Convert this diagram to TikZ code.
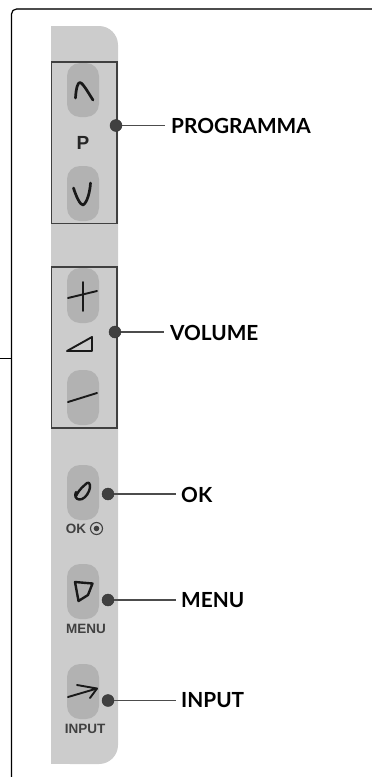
\documentclass[tikz,border=0pt]{standalone}
\usepackage{fontspec}
\setmainfont{Lato}
\newfontfamily\arialb[]{Liberation Sans}
\tikzset{
  callout/.style={font=\fontsize{20.8}{22}\selectfont\bfseries, text=black, anchor=west, inner sep=0pt},
  panelbox/.style={draw=black!75, line width=1.2pt},
  keybtn/.style={fill=black!30, rounded corners=13pt, draw=none},
  dot/.style={circle, fill=black!75, draw=black!80, line width=.4pt, minimum size=12pt, inner sep=0pt},
  leader/.style={draw=black!70, line width=1.1pt},
  glyph/.style={draw=black!90, line width=1.9pt, line cap=round, line join=round},
  keylabel/.style={font=\arialb\bfseries\fontsize{13.5}{14}\selectfont, text=black!75, inner sep=0pt}
}
\begin{document}
\begin{tikzpicture}[x=1pt,y=-1pt]
\useasboundingbox (0,0) rectangle (372,777);
% frame
\draw[black,line width=1.2pt,rounded corners=5pt] (11.5,777) -- (11.5,9) -- (18,9);
\draw[black!70,line width=1.8pt] (17,9) -- (372,9);
\draw[black,line width=.9pt] (0,358.5) -- (11.5,358.5);
% panel
\fill[black!20,rounded corners=19pt] (51,26) -- (118,26) -- (118,764) -- (51,764) [sharp corners] -- cycle;
\fill[black!20] (51,26) rectangle (80,764);
% buttons
\fill[keybtn] (67,63) rectangle (99,117);
\fill[keybtn] (67,166) rectangle (99,221);
\fill[keybtn] (67,268) rectangle (99,323);
\fill[keybtn] (67,370) rectangle (99,425);
\fill[keybtn] (67,465) rectangle (99,520);
\fill[keybtn] (67,564) rectangle (99,619);
\fill[keybtn] (67,664) rectangle (99,719);
% group boxes
\draw[panelbox] (51.5,62) rectangle (117,223.5);
\draw[panelbox] (51.5,267) rectangle (117,428);
% glyphs
\draw[glyph,line width=2.7pt] (75.5,98) .. controls (76,88) and (78,82) .. (80,82.5) .. controls (83,83) and (89,94) .. (93,100);
\draw[glyph,line width=2.7pt] (73.5,188) .. controls (76,196) and (80,205) .. (83,205) .. controls (87,203) and (90,192) .. (90.5,183);
\draw[glyph] (68,298) -- (97,291);
\draw[glyph] (83,282) -- (83,311);
\draw[glyph] (67,351) -- (92,337) -- (92,351) -- cycle;
\draw[glyph] (68,402) -- (97,393);
\draw[glyph,line width=2.4pt] (76,496) .. controls (80,488) and (84,486) .. (87,483) .. controls (90,481) and (91,487) .. (89,491) .. controls (87,496) and (83,500) .. (79,499.5) .. controls (76,499) and (74,496) .. (76,492);
\draw[glyph,line width=2.4pt] (75,582) -- (92.5,583.5) -- (88,595) -- (78.5,601) -- cycle;
\draw[glyph] (68,697) -- (97,688.5) -- (77,685);
\draw[glyph] (97,688.5) -- (90,698);
% key labels
\node[keylabel,font=\arialb\bfseries\fontsize{19}{20}\selectfont,text=black!85] (pk) at (83,143) {P};
\node[keylabel] (okk) at (76,529) {OK};
\node[circle,draw=black!75,line width=1.1pt,minimum size=12pt,inner sep=0pt] (okring) at (96.5,528.5) {};
\fill[black!75] (okring.center) circle (2.8pt);
\node[keylabel] (menuk) at (86,629) {MENU};
\node[keylabel] (inputk) at (85,728.5) {INPUT};
% callouts
\node[dot] (d1) at (116,125.5) {};
\node[dot] (d2) at (115,332) {};
\node[dot] (d3) at (108,494) {};
\node[dot] (d4) at (108,600) {};
\node[dot] (d5) at (108,700.5) {};
\node[callout] (l1) at (171,126) {PROGRAMMA};
\node[callout] (l2) at (170,332.5) {VOLUME};
\node[callout] (l3) at (181,494.5) {OK};
\node[callout] (l4) at (181,600.5) {MENU};
\node[callout] (l5) at (181,700.5) {INPUT};
\coordinate (e1) at (165,125.5);
\coordinate (e2) at (164,332);
\coordinate (e3) at (176,494);
\coordinate (e4) at (176,600);
\coordinate (e5) at (176,700.5);
\draw[leader] (d1) -- (e1);
\draw[leader] (d2) -- (e2);
\draw[leader] (d3) -- (e3);
\draw[leader] (d4) -- (e4);
\draw[leader] (d5) -- (e5);
\end{tikzpicture}
\end{document}
